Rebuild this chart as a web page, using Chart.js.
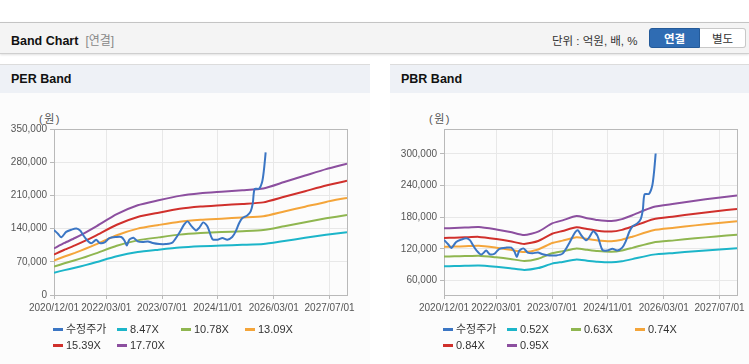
<!DOCTYPE html>
<html lang="ko">
<head>
<meta charset="utf-8">
<title>Band Chart</title>
<script src="https://cdn.jsdelivr.net/npm/chart.js@4.4.1/dist/chart.umd.min.js"></script>
<style>
    body {
        margin: 0;
        width: 749px;
        height: 364px;
        overflow: hidden;
        background: #fff;
        font-family: 'Liberation Sans', 'Noto Sans CJK KR', sans-serif;
        color: #333;
        position: relative;
    }
    .top-bar {
        position: absolute;
        left: 0; top: 22px;
        width: 749px; height: 30px;
        background: #f4f4f4;
        border-top: 1px solid #c4c4c4;
        border-bottom: 1px solid #cfcfcf;
        box-shadow: 0 1px 2px rgba(0,0,0,0.12);
    }
    .top-bar .title {
        position: absolute; left: 11px; top: 8px;
        font-size: 12.5px; font-weight: bold; color: #111;
    }
    .top-bar .sub { font-weight: normal; color: #888; margin-left: 7px; font-size: 12px; }
    .top-bar .unit {
        position: absolute; left: 552px; top: 9px;
        font-size: 11.5px; color: #333;
    }
    .btn {
        position: absolute; top: 5px; height: 20px; line-height: 20px;
        font-size: 11.5px; text-align: center; box-sizing: border-box;
    }
    .btn.on {
        left: 649px; width: 51px;
        background: #2f6cb3; color: #fff; font-weight: bold;
        border: 1px solid #245a99; border-radius: 3px 0 0 3px;
    }
    .btn.off {
        left: 700px; width: 46px;
        background: #fff; color: #333;
        border: 1px solid #c8c8c8; border-left: none; border-radius: 0 3px 3px 0;
    }
    .panel {
        position: absolute; top: 64px; width: 370px; height: 299px;
        background: #fcfcfc;
        border-top: 1px solid #dcdcdc;
        border-bottom: 1px solid #dcdcdc;
    }
    .panel .head {
        height: 28px; background: #eef1f6;
        font-size: 12.5px; font-weight: bold; color: #111;
        line-height: 29px; padding-left: 11px;
    }
    .panel .unit-label {
        position: absolute; left: 39px; top: 45px;
        font-size: 11px; color: #555; letter-spacing: 1.5px;
    }
    .panel canvas { position: absolute; left: 0; top: 30px; }
    .legend {
        position: absolute; left: 53px; top: 256px; width: 300px;
        font-size: 11px; color: #333; line-height: 16px;
    }
    .legend .item { display: inline-block; width: 64px; white-space: nowrap; }
    .legend .swatch {
        display: inline-block; width: 10px; height: 3px;
        vertical-align: middle; margin-right: 3px; position: relative; top: -1px;
    }
</style>
</head>
<body>

<div class="top-bar">
    <div class="title">Band Chart<span class="sub">[연결]</span></div>
    <div class="unit">단위 : 억원, 배, %</div>
    <div class="btn on">연결</div>
    <div class="btn off">별도</div>
</div>

<div class="panel" style="left:0">
    <div class="head">PER Band</div>
    <div class="unit-label">(원)</div>
    <canvas id="perChart" width="370" height="230"></canvas>
    <div class="legend" id="perLegend"></div>
</div>

<div class="panel" style="left:390px">
    <div class="head">PBR Band</div>
    <div class="unit-label">(원)</div>
    <canvas id="pbrChart" width="370" height="230"></canvas>
    <div class="legend" id="pbrLegend"></div>
</div>

<script>
// x axis tick labels (shared by both charts)
const xTickLabels = ['2020/12/01', '2022/03/01', '2023/07/01', '2024/11/01', '2026/03/01', '2027/07/01'];
const xStart = '2020/12/01';
const xEnd = '2027/12/01';

// adjusted price (수정주가)
const priceDates = ['2020/12/01','2021/01/07','2021/02/04','2021/03/16','2021/05/01','2021/06/13','2021/07/16','2021/08/10',
    '2021/09/10','2021/10/22','2021/12/04','2022/01/04','2022/02/16','2022/03/28','2022/05/25','2022/07/10','2022/08/07',
    '2022/08/28','2022/09/19','2022/10/25','2022/12/01','2023/01/13','2023/02/27','2023/04/10','2023/06/07','2023/08/04',
    '2023/10/01','2023/11/28','2024/01/10','2024/02/10','2024/03/16','2024/04/22','2024/05/19','2024/06/25','2024/08/01',
    '2024/09/13','2024/10/28','2024/12/10','2025/01/22','2025/03/04','2025/04/04','2025/05/04','2025/06/01','2025/07/13',
    '2025/08/13','2025/09/01','2025/09/16','2025/10/25','2025/11/22','2025/12/07','2025/12/16','2025/12/22'];
const priceValues = [137000,128600,121500,133000,137600,140000,136000,127000,
    117000,109000,116600,109600,111000,120000,122200,122200,115000,
    104600,116600,120800,113000,111700,113000,109600,107500,107500,
    110900,130700,148200,155200,144600,136200,141200,153100,144600,
    118000,116600,120100,116600,122200,134100,151800,162300,167800,
    176200,193900,223400,224000,239500,264100,285200,300600];

// PER band
const perDates = ['2020/12/01','2021/03/01','2021/06/01','2021/09/01','2021/12/01','2022/06/01','2022/12/01','2023/06/01',
    '2023/12/01','2024/06/01','2024/12/01','2025/06/01','2025/12/01','2026/06/01','2026/12/01','2027/06/01','2027/12/01'];
const perLabels = ['8.47X', '10.78X', '13.09X', '15.39X', '17.70X'];
const per847 = [47000,52500,57500,63000,69000,81500,90500,95500,100000,102600,104200,105700,107500,114000,120500,127000,132500];
const per1078 = [59800,66800,73200,80200,87800,103700,115200,121500,127300,130600,132600,134500,136800,145100,153400,161600,168600];
const per1309 = [72600,81100,88900,97400,106600,126000,139900,147600,154600,158600,161000,163400,166100,176200,186200,196300,204800];
const per1539 = [85400,95400,104500,114500,125400,148100,164400,173500,181700,186400,189300,192100,195300,207100,218900,230800,240800];
const per1770 = [98200,109700,120200,131700,144200,170300,189100,199600,209000,214400,217700,220900,224600,238200,251800,265400,276900];
const perYTicks = [0, 70000, 140000, 210000, 280000, 350000];

// PBR band
const pbrDates = ['2020/12/01','2021/03/01','2021/06/01','2021/10/01','2022/03/01','2022/07/01','2022/11/01','2023/03/01',
    '2023/07/01','2023/10/01','2024/02/01','2024/05/01','2024/08/01','2024/12/01','2025/03/01','2025/06/01','2025/12/01',
    '2026/06/01','2026/12/01','2027/06/01','2027/12/01'];
const pbrLabels = ['0.52X', '0.63X', '0.74X', '0.84X', '0.95X'];
const pbr052 = [87000,87300,87700,88300,85800,83200,80000,83500,92000,95200,99600,97500,95500,94500,96500,100500,109000,112300,115500,118400,121000];
const pbr063 = [105400,105800,106200,107000,103900,100800,96900,101200,111500,115300,120700,118100,115700,114500,116900,121800,132100,136000,139900,143400,146600];
const pbr074 = [123800,124200,124800,125700,122100,118400,113800,118800,130900,135500,141700,138800,135900,134500,137300,143000,155100,159800,164400,168500,172200];
const pbr084 = [140500,141000,141700,142600,138600,134400,129200,134900,148600,153800,160900,157500,154300,152700,155900,162300,176100,181400,186600,191300,195500];
const pbr095 = [158900,159500,160200,161300,156700,152000,146200,152500,168100,173900,182000,178100,174500,172600,176300,183600,199100,205200,211000,216300,221100];
const pbrYTicks = [60000, 120000, 180000, 240000, 300000];

const lineColors = ['#3b76c4', '#1cb5c9', '#8fb650', '#f4a53a', '#d0302c', '#8c4f9f'];

// months since 2020/12/01 (fractional by day)
function monthIndex(s) {
    const [y, m, d] = s.split('/').map(Number);
    const days = new Date(y, m, 0).getDate();
    return (y - 2020) * 12 + (m - 12) + (d - 1) / days;
}

function toPoints(dates, values) {
    return dates.map((d, i) => ({ x: monthIndex(d), y: values[i] }));
}

// frame round the plot area
const framePlugin = {
    id: 'frame',
    beforeDatasetsDraw(chart) {
        const { ctx, chartArea: a } = chart;
        ctx.save();
        ctx.strokeStyle = '#b9b9b9';
        ctx.lineWidth = 1;
        ctx.strokeRect(Math.round(a.left) + 0.5, Math.round(a.top) + 0.5,
            Math.round(a.right - a.left), Math.round(a.bottom - a.top));
        ctx.restore();
    }
};

function buildLegend(id, names) {
    const el = document.getElementById(id);
    el.innerHTML = names.map((n, i) =>
        `<span class="item"><span class="swatch" style="background:${lineColors[i]}"></span>${n}</span>`
    ).join('');
}

function createBandChart(canvasId, bandDates, bands, names, yMin, yMax, yTicks) {
    const ctx = document.getElementById(canvasId).getContext('2d');
    const datasets = [{
        label: names[0],
        data: toPoints(priceDates, priceValues),
        borderColor: lineColors[0],
        borderWidth: 2,
        pointRadius: 0,
        tension: 0.25,
        order: 0
    }];
    bands.forEach((vals, i) => {
        datasets.push({
            label: names[i + 1],
            data: toPoints(bandDates, vals),
            borderColor: lineColors[i + 1],
            borderWidth: 2,
            pointRadius: 0,
            tension: 0.2,
            order: 1
        });
    });

    return new Chart(ctx, {
        type: 'line',
        data: { datasets },
        plugins: [framePlugin],
        options: {
            responsive: false,
            animation: false,
            layout: { padding: { top: 34, right: 23, left: 0, bottom: 0 } },
            scales: {
                x: {
                    type: 'linear',
                    min: monthIndex(xStart),
                    max: monthIndex(xEnd),
                    afterBuildTicks: (scale) => {
                        scale.ticks = xTickLabels.map(l => ({ value: monthIndex(l) }));
                    },
                    afterFit: (scale) => { scale.height = 30; },
                    ticks: {
                        autoSkip: false,
                        maxRotation: 0,
                        color: '#555',
                        font: { size: 10, family: "'Liberation Sans', sans-serif" },
                        padding: 3,
                        callback: (v) => {
                            const l = xTickLabels.find(t => Math.abs(monthIndex(t) - v) < 0.01);
                            return l || '';
                        }
                    },
                    grid: { color: '#e8e8e8', tickColor: '#b9b9b9', tickLength: 4 },
                    border: { display: false }
                },
                y: {
                    min: yMin,
                    max: yMax,
                    afterBuildTicks: (scale) => {
                        scale.ticks = yTicks.map(v => ({ value: v }));
                    },
                    afterFit: (scale) => { scale.width = 54; },
                    ticks: {
                        color: '#555',
                        font: { size: 10, family: "'Liberation Sans', sans-serif" },
                        padding: 3,
                        callback: (v) => v.toLocaleString('en-US')
                    },
                    grid: { color: '#e8e8e8', tickColor: '#b9b9b9', tickLength: 4 },
                    border: { display: false }
                }
            },
            plugins: {
                legend: { display: false },
                tooltip: { enabled: false }
            }
        }
    });
}

createBandChart('perChart', perDates, [per847, per1078, per1309, per1539, per1770],
    ['수정주가', ...perLabels], 0, 350000, perYTicks);
createBandChart('pbrChart', pbrDates, [pbr052, pbr063, pbr074, pbr084, pbr095],
    ['수정주가', ...pbrLabels], 32500, 347000, pbrYTicks);

buildLegend('perLegend', ['수정주가', ...perLabels]);
buildLegend('pbrLegend', ['수정주가', ...pbrLabels]);
</script>
</body>
</html>
